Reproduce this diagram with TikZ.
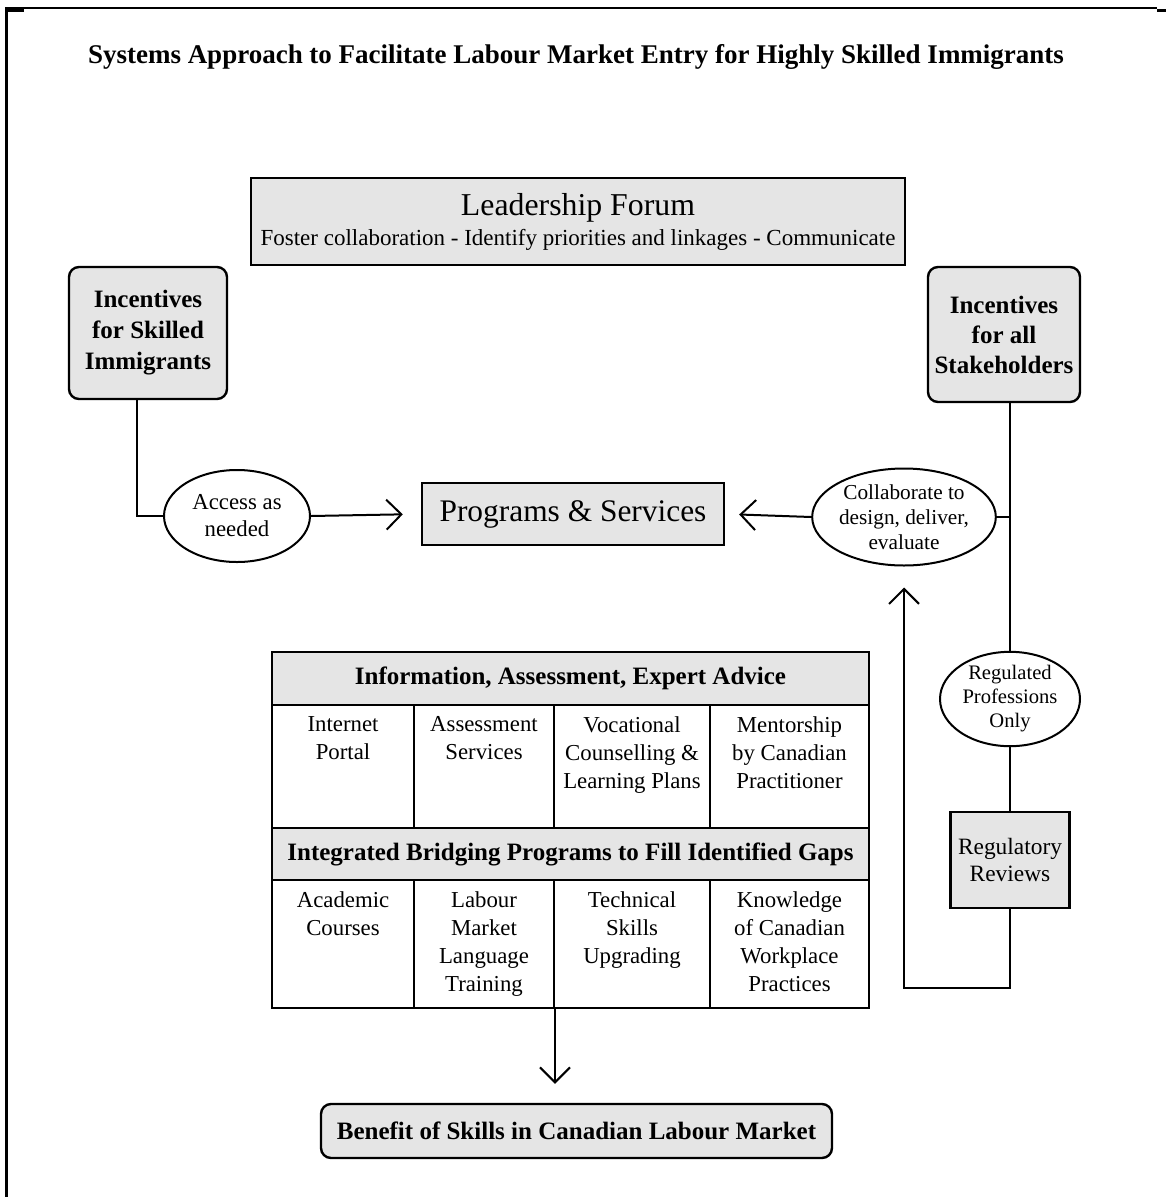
\documentclass[tikz,border=0pt]{standalone}
\usepackage{fontspec}
\setmainfont{Liberation Serif}
\usepackage{xcolor}
\definecolor{boxgray}{HTML}{E5E5E5}
\usetikzlibrary{arrows.meta, positioning, shapes.geometric, calc}

\begin{document}
\begin{tikzpicture}[
    x=1pt, y=-1pt,
    box/.style={draw, fill=boxgray, line width=2.4pt, inner sep=0pt, align=center},
    rbox/.style={box, rounded corners=10pt},
    bubble/.style={draw, ellipse, line width=2pt, inner sep=0pt, align=center, fill=white},
    cell/.style={draw, line width=2pt, inner sep=0pt},
    celltext/.style={anchor=north, inner sep=0pt, align=center, font=\fontsize{22.8}{28}\selectfont},
    trans/.style={-{Straight Barb[length=15pt, width=30pt]}, line width=2pt},
    link/.style={line width=2pt},
]
\useasboundingbox (0,0) rectangle (1166,1197);

% Frame
\draw[line width=2pt] (5,8) -- (1157,8);
\draw[line width=3pt] (5,10) -- (24,10);
\draw[line width=3pt] (1157,10) -- (1166,10);
\draw[line width=3pt] (6,8) -- (6,1197);

% Title
\node[font=\bfseries\fontsize{27}{30}\selectfont] (title) at (576,57) {Systems Approach to Facilitate Labour Market Entry for Highly Skilled Immigrants};

% Boxes
\node[box, minimum width=654, minimum height=87] (forum) at (578,221.5)
    {{\fontsize{31.8}{33}\selectfont Leadership Forum}\\[6pt]{\fontsize{23}{26}\selectfont Foster collaboration - Identify priorities and linkages - Communicate}};
\node[rbox, minimum width=158, minimum height=132, font=\bfseries\fontsize{25}{31}\selectfont] (incskill) at (148,333) {Incentives\\for Skilled\\Immigrants};
\node[rbox, minimum width=152, minimum height=135, font=\bfseries\fontsize{25}{30}\selectfont] (stake) at (1004,334.5) {Incentives\\for all\\Stakeholders};
\node[box, minimum width=302, minimum height=62, font=\fontsize{31.4}{34}\selectfont] (prog) at (573,514) {Programs \& Services};
\node[bubble, minimum width=146, minimum height=92, font=\fontsize{22.8}{27}\selectfont] (access) at (237,516) {Access as\\needed};
\node[bubble, minimum width=156, minimum height=97, font=\fontsize{21.3}{25}\selectfont] (collab) at (904,517) {Collaborate to\\design, deliver,\\evaluate};
\node[bubble, minimum width=140, minimum height=88, font=\fontsize{20.6}{24}\selectfont] (regprof) at (1010,699) {Regulated\\Professions\\Only};
\node[box, fill=boxgray, minimum width=119, minimum height=96, font=\fontsize{23.4}{27}\selectfont] (regrev) at (1010,860) {Regulatory\\Reviews};
\node[rbox, minimum width=511, minimum height=54, font=\bfseries\fontsize{25}{28}\selectfont] (benefit) at (576.5,1131) {Benefit of Skills in Canadian Labour Market};

% Table
\node[box, minimum width=597, minimum height=53, font=\bfseries\fontsize{25}{28}\selectfont] (info) at (570.5,678.5) {Information, Assessment, Expert Advice};
\foreach \nm/\cx/\w/\txt in {portal/343/142/{Internet\\Portal}, assess/484/140/{Assessment\\Services},
    voc/632/156/{Vocational\\Counselling \&\\Learning Plans}, mentor/789.5/159/{Mentorship\\by Canadian\\Practitioner}}{
  \node[cell, minimum width=\w, minimum height=123] (\nm) at (\cx,766.5) {};
  \node[celltext] at ([yshift=-12pt]\nm.north) {\txt};
}
\node[box, minimum width=597, minimum height=52, font=\bfseries\fontsize{25}{28}\selectfont] (bridge) at (570.5,854) {Integrated Bridging Programs to Fill Identified Gaps};
\foreach \nm/\cx/\w/\txt in {academic/343/142/{Academic\\Courses}, labour/484/140/{Labour\\Market\\Language\\Training},
    technical/632/156/{Technical\\Skills\\Upgrading}, knowledge/789.5/159/{Knowledge\\of Canadian\\Workplace\\Practices}}{
  \node[cell, minimum width=\w, minimum height=128] (\nm) at (\cx,944) {};
  \node[celltext] at ([yshift=-12pt]\nm.north) {\txt};
}

% Connectors
\draw[link] ([xshift=-11pt]incskill.south) |- (access.west);
\draw[trans, shorten >=18pt] (access.east) -- (prog.west);
\draw[trans, shorten >=14pt] (collab.west) -- (prog.east);
\draw[link] (collab.east) -- (collab.east -| regprof.north);
\draw[link] (stake.south -| regprof.north) -- (regprof.north);
\draw[link] (regprof.south) -- (regrev.north);
\coordinate (turn) at (1010,988);
\draw[trans, shorten >=21pt] (regrev.south) -- (turn) -| (collab.south);
\draw[trans, shorten >=19pt] (labour.south east) -- (labour.south east |- benefit.north);

\end{tikzpicture}
\end{document}
